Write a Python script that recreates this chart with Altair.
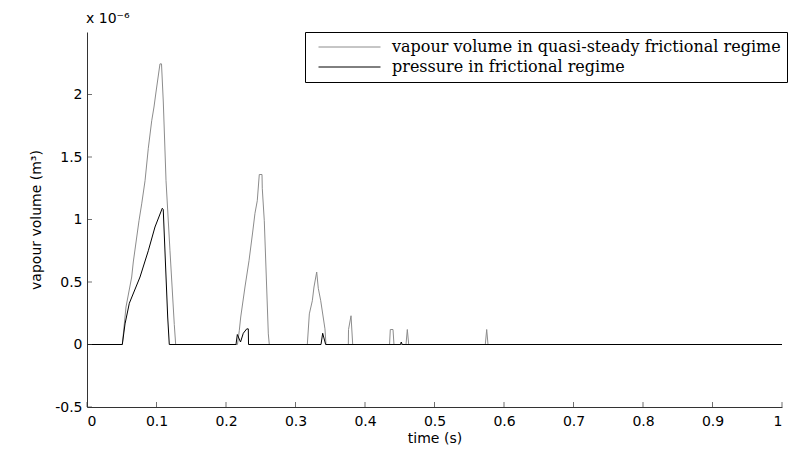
import altair as alt
import pandas as pd

# ---- data (volume in units of 1e-6 m^3, time in s) ----
gray_name = "vapour volume in quasi-steady frictional regime"
black_name = "pressure in frictional regime"

gray_t = [0.0, 0.0508, 0.0561, 0.0643, 0.0666, 0.0748, 0.0787, 0.0835, 0.0882, 0.0931,
          0.0964, 0.0993, 0.1050, 0.1072, 0.1098, 0.1137, 0.1194, 0.1256, 0.1276,
          0.2165, 0.2191, 0.2212, 0.2273, 0.2331, 0.2384, 0.2417, 0.2450, 0.2479, 0.2518,
          0.2522, 0.2551, 0.2609, 0.2623,
          0.3170, 0.3199, 0.3242, 0.3266, 0.3305, 0.3328, 0.3363, 0.3424, 0.3439,
          0.3760, 0.3763, 0.3799, 0.3823,
          0.4353, 0.4364, 0.4403, 0.4417,
          0.4590, 0.4609, 0.4629,
          0.5731, 0.5751, 0.5770,
          1.0]
gray_v = [0.0, 0.0, 0.30, 0.54, 0.66, 0.99, 1.125, 1.31, 1.57, 1.79,
          1.90, 2.02, 2.245, 2.245, 1.94, 1.31, 0.75, 0.16, 0.0,
          0.0, 0.11, 0.22, 0.46, 0.67, 0.90, 1.05, 1.15, 1.36, 1.36,
          1.25, 0.99, 0.085, 0.0,
          0.0, 0.245, 0.35, 0.46, 0.58, 0.45, 0.35, 0.125, 0.0,
          0.0, 0.12, 0.23, 0.0,
          0.0, 0.12, 0.12, 0.0,
          0.0, 0.12, 0.0,
          0.0, 0.12, 0.0,
          0.0]

black_t = [0.0, 0.0508, 0.0547, 0.0609, 0.0763, 0.0882, 0.0978, 0.1083, 0.1097, 0.1161, 0.1184,
           0.2144, 0.2163, 0.2209, 0.2249, 0.2298, 0.2321, 0.2324,
           0.3367, 0.3391, 0.3434,
           0.4511, 0.4522, 0.4535,
           1.0]
black_v = [0.0, 0.0, 0.165, 0.33, 0.54, 0.75, 0.94, 1.09, 1.08, 0.22, 0.0,
           0.0, 0.08, 0.02, 0.09, 0.125, 0.125, 0.0,
           0.0, 0.09, 0.0,
           0.0, 0.02, 0.0,
           0.0]

x_ticks = [0, 0.1, 0.2, 0.3, 0.4, 0.5, 0.6, 0.7, 0.8, 0.9, 1.0]
y_ticks = [-0.5, 0, 0.5, 1, 1.5, 2]

gray_df = pd.DataFrame({"t": gray_t, "v": gray_v, "series": gray_name})
black_df = pd.DataFrame({"t": black_t, "v": black_v, "series": black_name})
xt_df = pd.DataFrame({"t": x_ticks})
yt_df = pd.DataFrame({"v": y_ticks})

SANS = "DejaVu Sans"
AXC = "#333333"

color_scale = alt.Scale(domain=[gray_name, black_name], range=["#8c8c8c", "#000000"])

x_enc = alt.X("t:Q", scale=alt.Scale(domain=[0, 1], nice=False),
              axis=alt.Axis(values=x_ticks, format="~g", title="time (s)",
                            titleBaseline="middle", titleY=31, labelPadding=7))
y_enc = alt.Y("v:Q", scale=alt.Scale(domain=[-0.5, 2.5], nice=False),
              axis=alt.Axis(values=y_ticks, format="~g", title="vapour volume (m³)",
                            titleX=-44, titleY=187.5, labelPadding=5,
                            labelExpr="replace(datum.label, '\u2212', '-')"))

gray_line = alt.Chart(gray_df).mark_line(strokeWidth=1).encode(
    x=x_enc, y=y_enc,
    color=alt.Color("series:N", scale=color_scale,
                    legend=alt.Legend(title=None, orient="none", legendX=218, legendY=0)),
)
black_line = alt.Chart(black_df).mark_line(strokeWidth=1).encode(
    x="t:Q", y="v:Q",
    color=alt.Color("series:N", scale=color_scale),
)
x_tick_marks = alt.Chart(xt_df).mark_tick(orient="vertical", size=5, thickness=1,
                                          color=AXC, yOffset=-2.5).encode(
    x="t:Q", y=alt.datum(-0.5))
y_tick_marks = alt.Chart(yt_df).mark_tick(orient="horizontal", size=5, thickness=1,
                                          color=AXC, xOffset=2.5).encode(
    y="v:Q", x=alt.datum(0))

chart = alt.layer(gray_line, black_line, x_tick_marks, y_tick_marks).properties(
    width=695, height=375,
    autosize="none",
    padding={"left": 87, "top": 32, "right": 18, "bottom": 45},
    background="white",
    title=alt.Title("x 10⁻⁶", anchor="start", frame="group", offset=6, dx=-1,
                    font=SANS, fontSize=14, fontWeight="normal", color="black"),
).configure_view(stroke=None).configure_axis(
    grid=False, ticks=False, domainColor=AXC, domainWidth=1,
    labelFont=SANS, labelFontSize=14, labelColor="black",
    titleFont=SANS, titleFontSize=14, titleFontWeight="normal", titleColor="black",
).configure_legend(
    fillColor="white", strokeColor="black", padding=6,
    symbolType="stroke", symbolSize=3844, symbolStrokeWidth=1, symbolOffset=7,
    labelOffset=11, labelFont="DejaVu Serif", labelFontSize=16, labelColor="black",
    labelLimit=600, clipHeight=18, rowPadding=2, cornerRadius=0,
)

chart.save("out.html", embed_options={"renderer": "svg", "actions": False})
